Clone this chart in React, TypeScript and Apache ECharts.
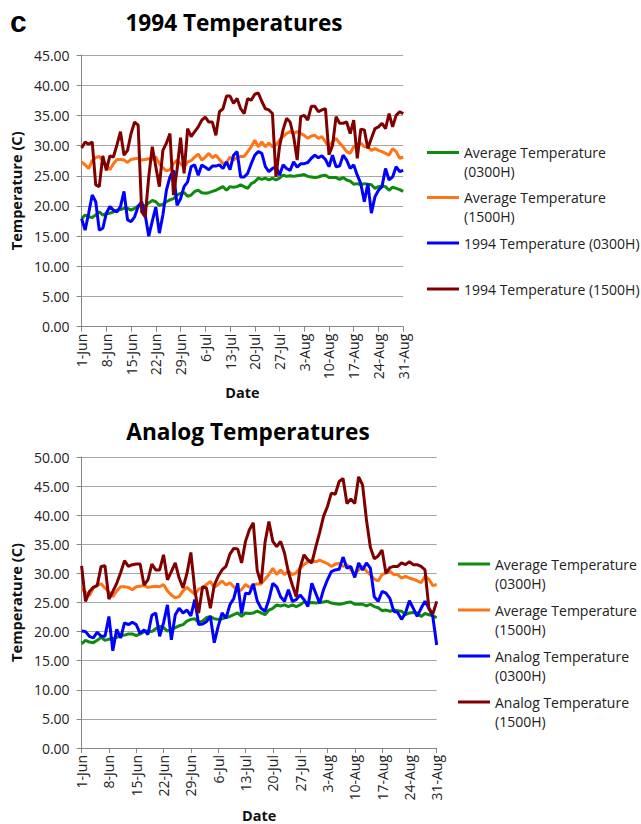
import React, { useEffect, useRef } from 'react';
import * as echarts from 'echarts';

const months: [string, number][] = [['Jun', 30], ['Jul', 31], ['Aug', 31]];
const dates: string[] = [];
for (const [m, n] of months) for (let d = 1; d <= n; d++) dates.push(`${d}-${m}`);

// Average Temperature (0300H)
const avg0300 = [
  17.9, 18.5, 18.2, 18.1, 18.5, 19.0, 18.5, 18.7, 18.8, 19.0,
  19.3, 19.4, 19.6, 19.6, 19.3, 19.6, 20.0, 20.1, 20.0, 20.5,
  20.9, 20.7, 20.1, 20.3, 20.7, 21.0, 21.2, 21.8, 22.1, 22.2,
  21.6, 21.8, 22.4, 22.6, 22.2, 22.1, 22.2, 22.4, 22.6, 22.9,
  23.2, 22.6, 23.2, 23.1, 23.2, 23.5, 23.2, 22.9, 23.7, 24.0,
  24.6, 24.4, 24.6, 24.3, 24.6, 24.3, 24.6, 25.1, 24.9, 25.0,
  24.9, 25.0, 25.1, 25.2, 24.9, 24.8, 24.7, 24.8, 25.0, 25.1,
  24.7, 24.7, 24.7, 24.4, 24.7, 24.3, 24.1, 23.6, 23.7, 23.5,
  23.7, 23.6, 23.5, 22.9, 23.2, 23.3, 23.2, 22.6, 23.1, 22.9,
  22.7, 22.4,
];

// Average Temperature (1500H)
const avg1500 = [
  27.3, 26.8, 26.2, 27.5, 28.0, 28.2, 27.5, 26.8, 26.0, 27.0,
  27.7, 27.7, 27.6, 27.2, 27.7, 27.8, 27.9, 27.6, 27.7, 27.8,
  27.7, 28.1, 27.0, 26.3, 25.8, 26.0, 27.0, 27.6, 27.0, 26.4,
  27.3, 27.5, 28.1, 28.6, 27.6, 28.1, 28.7, 28.0, 28.4, 27.7,
  27.0, 27.2, 28.1, 27.6, 28.0, 28.2, 28.2, 29.0, 29.8, 30.9,
  29.8, 30.6, 29.8, 30.4, 29.8, 30.1, 30.9, 31.5, 32.0, 32.3,
  32.0, 32.3, 32.0, 31.7, 31.2, 31.6, 31.7, 31.2, 31.5, 30.6,
  29.8, 30.6, 31.2, 30.4, 29.8, 29.0, 28.7, 29.8, 30.1, 30.4,
  29.8, 29.8, 29.2, 29.5, 29.2, 29.0, 28.7, 28.4, 29.5, 29.0,
  27.9, 28.1,
];

// 1994 Temperature (0300H)
const t1994_0300 = [
  17.9, 16.0, 18.8, 21.8, 20.7, 16.0, 16.3, 18.8, 19.9, 19.3,
  19.0, 19.9, 22.4, 17.7, 17.4, 18.2, 19.9, 20.7, 18.5, 15.0,
  17.5, 19.8, 15.5, 18.5, 22.6, 24.8, 25.9, 20.1, 21.2, 23.2,
  24.0, 26.5, 26.8, 25.1, 26.8, 26.4, 26.0, 26.6, 26.6, 26.8,
  26.2, 27.3, 26.0, 28.4, 29.0, 24.8, 24.8, 25.4, 27.0, 28.4,
  29.0, 28.7, 26.5, 25.7, 26.2, 26.5, 25.1, 26.8, 26.2, 25.9,
  27.3, 26.4, 27.0, 27.0, 27.2, 27.9, 28.4, 28.0, 28.3, 27.7,
  26.5, 28.4, 26.5, 26.6, 28.4, 27.6, 26.2, 26.8, 25.1, 23.7,
  20.7, 23.7, 18.8, 21.5, 22.6, 23.2, 26.2, 24.3, 24.8, 26.5,
  25.7, 25.9,
];

// 1994 Temperature (1500H)
const t1994_1500 = [
  29.6, 30.6, 30.2, 30.6, 23.5, 23.2, 28.3, 25.9, 28.3, 28.1,
  30.1, 32.3, 28.4, 29.2, 32.0, 33.9, 33.4, 19.0, 18.2, 24.8,
  29.8, 26.5, 23.2, 29.2, 30.4, 32.0, 21.8, 26.0, 31.3, 25.4,
  32.8, 31.5, 32.3, 33.1, 34.2, 34.7, 33.9, 33.9, 31.7, 35.6,
  36.1, 38.2, 38.2, 37.0, 37.8, 36.1, 35.3, 37.8, 37.5, 38.5,
  38.7, 37.3, 36.1, 35.9, 35.3, 24.8, 29.8, 32.6, 34.5, 33.9,
  31.5, 27.6, 34.8, 35.0, 34.2, 36.5, 36.5, 35.6, 35.9, 36.1,
  28.5, 30.0, 34.8, 33.7, 33.7, 33.9, 32.0, 34.2, 27.9, 32.7,
  32.6, 29.5, 31.2, 32.8, 33.1, 33.7, 32.8, 35.3, 33.1, 35.0,
  35.6, 35.3,
];

// Analog Temperature (0300H)
const analog0300 = [
  20.1, 20.0, 19.2, 18.9, 19.9, 19.2, 19.2, 22.6, 16.7, 20.4,
  18.9, 21.5, 21.2, 21.6, 21.2, 19.7, 20.3, 19.5, 22.8, 23.2,
  19.2, 21.5, 24.6, 18.6, 22.9, 24.0, 23.2, 23.7, 22.7, 25.5,
  21.2, 21.3, 21.7, 22.6, 18.1, 20.9, 23.2, 22.3, 24.6, 25.7,
  28.3, 23.1, 26.6, 26.5, 28.2, 25.3, 24.0, 23.5, 25.5, 28.3,
  27.7, 26.0, 25.2, 27.2, 25.2, 25.5, 26.3, 25.5, 24.3, 28.3,
  26.6, 24.9, 27.2, 28.9, 30.3, 30.6, 30.7, 32.8, 30.9, 31.2,
  29.3, 31.8, 30.6, 31.8, 30.9, 26.0, 25.2, 26.9, 26.6, 25.7,
  23.5, 23.3, 22.1, 23.2, 25.3, 24.0, 22.6, 24.0, 25.2, 24.0,
  22.6, 17.7,
];

// Analog Temperature (1500H)
const analog1500 = [
  31.3, 25.2, 26.9, 27.6, 27.9, 31.2, 31.3, 25.6, 26.9, 28.3,
  30.1, 32.2, 31.2, 31.5, 31.6, 31.6, 28.0, 28.9, 31.6, 30.6,
  30.6, 33.2, 28.9, 30.3, 31.8, 29.2, 27.5, 30.0, 33.6, 27.2,
  23.2, 27.7, 27.5, 24.0, 28.0, 29.5, 30.6, 31.2, 33.3, 34.3,
  34.2, 31.8, 35.5, 37.5, 38.7, 30.5, 28.3, 35.3, 38.9, 35.5,
  34.6, 35.5, 33.5, 30.2, 28.0, 26.0, 31.0, 33.2, 32.3, 31.8,
  34.5, 37.0, 39.8, 41.5, 43.8, 43.6, 45.8, 46.3, 42.0, 42.8,
  42.0, 46.6, 45.2, 39.2, 34.5, 32.5, 33.0, 34.0, 30.0, 31.0,
  31.2, 31.2, 31.8, 31.5, 32.0, 31.5, 31.5, 31.2, 30.6, 24.0,
  23.0, 25.2,
];

const topSeriesNames = [
  'Average Temperature (0300H)',
  'Average Temperature (1500H)',
  '1994 Temperature (0300H)',
  '1994 Temperature (1500H)',
];
const bottomSeriesNames = [
  'Average Temperature (0300H)',
  'Average Temperature (1500H)',
  'Analog Temperature (0300H)',
  'Analog Temperature (1500H)',
];
const colors = ['#0e8a0e', '#ff7415', '#0000ff', '#800000'];

const FONT = "'Open Sans', 'Noto Sans', sans-serif";
const AXIS_GREY = '#868686';
const GRID_GREY = '#a6a6a6';

function xAxisCfg(gridIndex: number, nameGap: number) {
  return {
    type: 'category',
    gridIndex,
    data: dates,
    boundaryGap: false,
    axisLine: { show: true, lineStyle: { color: AXIS_GREY, width: 1 } },
    axisTick: { show: true, interval: 6, length: 5, lineStyle: { color: AXIS_GREY } },
    axisLabel: { interval: 6, rotate: 90, margin: 7, fontFamily: FONT, fontSize: 14, color: '#222' },
    splitLine: { show: false },
    name: 'Date',
    nameLocation: 'middle',
    nameGap,
    nameTextStyle: { fontFamily: FONT, fontSize: 14.5, fontWeight: 'bold', color: '#111' },
  };
}

function yAxisCfg(gridIndex: number, max: number) {
  return {
    type: 'value',
    gridIndex,
    min: 0,
    max,
    interval: 5,
    axisLine: { show: true, lineStyle: { color: AXIS_GREY, width: 1 } },
    axisTick: { show: true, length: 5, lineStyle: { color: AXIS_GREY } },
    axisLabel: { margin: 12, fontFamily: FONT, fontSize: 14, color: '#222', formatter: (v: number) => v.toFixed(2) },
    splitLine: { show: true, lineStyle: { color: GRID_GREY, width: 1 } },
    name: 'Temperature (C)',
    nameLocation: 'middle',
    nameGap: 51,
    nameTextStyle: { fontFamily: FONT, fontSize: 14.6, fontWeight: 'bold', color: '#111' },
  };
}

function lineSeries(name: string, data: number[], color: string, idx: number, z: number) {
  return {
    type: 'line',
    name,
    data,
    xAxisIndex: idx,
    yAxisIndex: idx,
    symbol: 'none',
    z,
    lineStyle: { width: 3, color },
    itemStyle: { color },
    emphasis: { disabled: true },
  };
}

// two-line entries get an empty leading line so that the first text line sits level with the icon
function legendItem(name: string, left: number, iconY: number, twoLine: boolean) {
  return {
    data: [name],
    left,
    top: twoLine ? iconY - 28.5 : iconY - 9.5,
    orient: 'horizontal',
    padding: 0,
    icon: 'rect',
    itemWidth: 32,
    itemHeight: 3,
    selectedMode: false,
    formatter: twoLine ? (n: string) => '\n' + n.replace(' (', '\n(') : (n: string) => n,
    textStyle: {
      fontFamily: FONT,
      fontSize: 14,
      color: '#222',
      lineHeight: 19,
    },
  };
}

const topData = [avg0300, avg1500, t1994_0300, t1994_1500];
const bottomData = [avg0300, avg1500, analog0300, analog1500];

const option = {
  animation: false,
  backgroundColor: '#ffffff',
  grid: [
    { left: 80.7, top: 55, width: 322.5, height: 271.7, containLabel: false },
    { left: 80.3, top: 457, width: 356.4, height: 291.3, containLabel: false },
  ],
  xAxis: [xAxisCfg(0, 58), xAxisCfg(1, 60)],
  yAxis: [yAxisCfg(0, 45), yAxisCfg(1, 50)],
  series: [
    ...topSeriesNames.map((n, i) => lineSeries(n, topData[i], colors[i], 0, 2 + i)),
    ...bottomSeriesNames.map((n, i) => lineSeries(n, bottomData[i], colors[i], 1, 2 + i)),
  ],
  legend: [
    legendItem(topSeriesNames[0], 427, 152.5, true),
    legendItem(topSeriesNames[1], 427, 197.5, true),
    legendItem(topSeriesNames[2], 427, 243, false),
    legendItem(topSeriesNames[3], 427, 289, false),
    legendItem(bottomSeriesNames[0], 458, 564, true),
    legendItem(bottomSeriesNames[1], 458, 610, true),
    legendItem(bottomSeriesNames[2], 458, 656, true),
    legendItem(bottomSeriesNames[3], 458, 702, true),
  ],
  graphic: [
    {
      type: 'text',
      x: 10,
      y: 21,
      style: { text: 'c', font: "bold 30px 'Liberation Sans', Arial, sans-serif", fill: '#000', align: 'left', verticalAlign: 'middle' },
    },
    {
      type: 'text',
      x: 234,
      y: 22.5,
      style: { text: '1994 Temperatures', font: `bold 22.6px ${FONT}`, fill: '#000', align: 'center', verticalAlign: 'middle' },
    },
    {
      type: 'text',
      x: 248,
      y: 431.5,
      style: { text: 'Analog Temperatures', font: `bold 22.6px ${FONT}`, fill: '#000', align: 'center', verticalAlign: 'middle' },
    },
  ],
};

export default function App() {
  const ref = useRef<HTMLDivElement>(null);
  useEffect(() => {
    if (!ref.current) return;
    const chart = echarts.init(ref.current, null, { renderer: 'svg' });
    chart.setOption(option as any);
    return () => chart.dispose();
  }, []);
  return (
    <div
      ref={ref}
      style={{ position: 'fixed', left: 0, top: 0, width: 641, height: 824, background: '#fff' }}
    />
  );
}
